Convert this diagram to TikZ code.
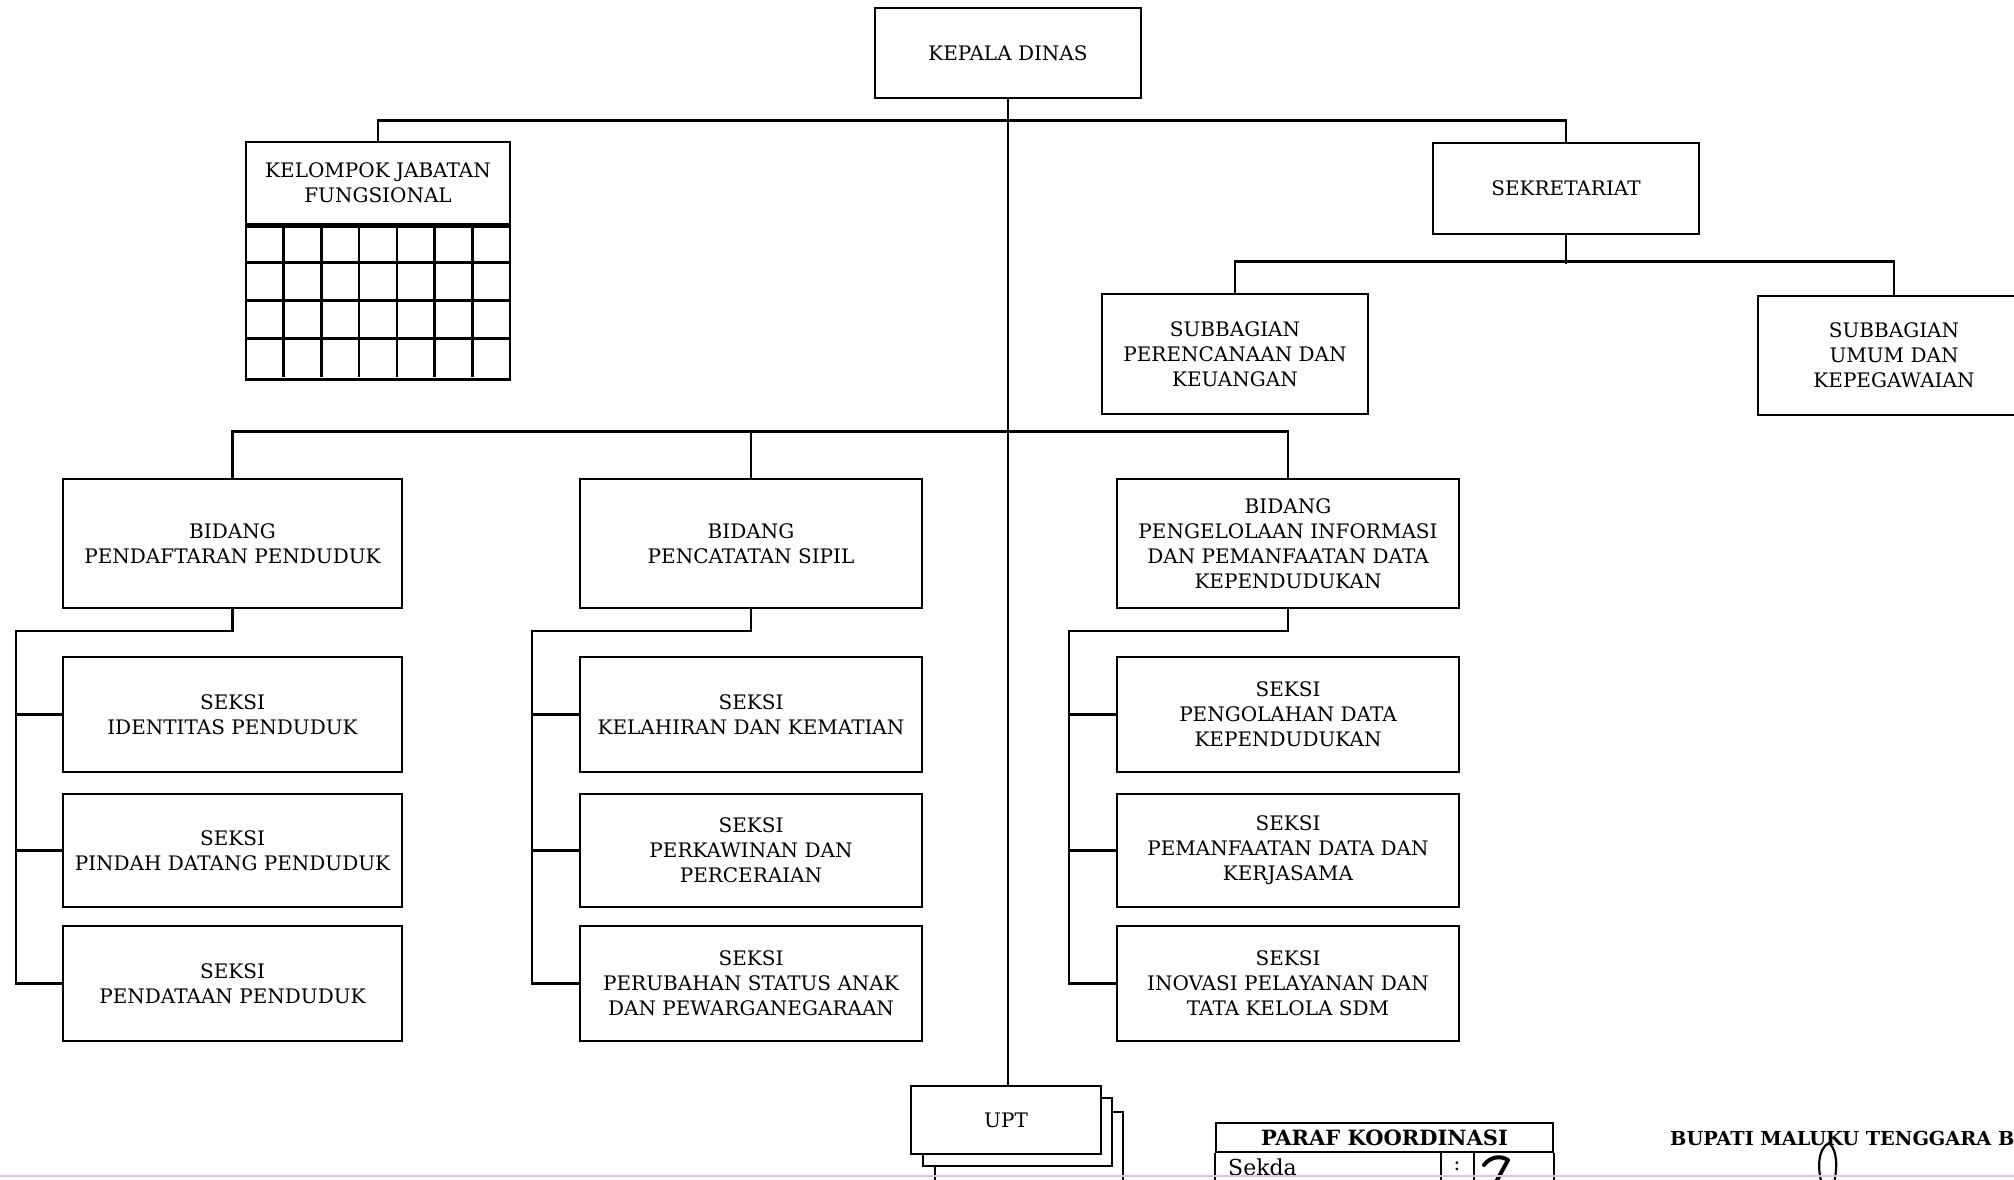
\documentclass[tikz,border=0pt]{standalone}
\usepackage{fontspec}
\setmainfont{DejaVu Serif}
\definecolor{pinkline}{RGB}{222,196,228}
\begin{document}
\begin{tikzpicture}[x=1pt,y=-1pt,
  box/.style={draw, line width=2.7pt, inner sep=0pt, align=center, fill=white,
    font=\fontsize{20}{25}\selectfont},
  conn/.style={line width=2.7pt},
  thin/.style={line width=2pt}]
\useasboundingbox[fill=white] (0,0) rectangle (2014,1180);

% top level
\node[box, minimum width=266pt, minimum height=90pt] (kd) at (1008,53) {KEPALA DINAS};
\node[box, minimum width=264pt, minimum height=82pt] (kjf) at (378,183) {KELOMPOK JABATAN\\FUNGSIONAL};
\node[draw, line width=2.7pt, inner sep=0pt, minimum width=264pt, minimum height=153pt, anchor=north] (grid) at (kjf.south) {};
\foreach \i in {1,...,6} \draw[conn] ({246+\i*264/7},224) -- ({246+\i*264/7},377);
\foreach \j in {1,2,3} \draw[conn] (246,{224+\j*38.25}) -- (510,{224+\j*38.25});

\node[box, minimum width=266pt, minimum height=91pt] (sek) at (1566,188.5) {SEKRETARIAT};
\node[box, minimum width=266pt, minimum height=120pt] (spk) at (1235,354) {SUBBAGIAN\\PERENCANAAN DAN\\KEUANGAN};
\node[box, minimum width=272pt, minimum height=119pt] (suk) at (1894,355.5) {SUBBAGIAN\\UMUM DAN\\KEPEGAWAIAN};

% bidang
\node[box, minimum width=339pt, minimum height=129pt] (b1) at (232.5,543.5) {BIDANG\\PENDAFTARAN PENDUDUK};
\node[box, minimum width=342pt, minimum height=129pt] (b2) at (751,543.5) {BIDANG\\PENCATATAN SIPIL};
\node[box, minimum width=342pt, minimum height=129pt] (b3) at (1288,543.5) {BIDANG\\PENGELOLAAN INFORMASI\\DAN PEMANFAATAN DATA\\KEPENDUDUKAN};

% seksi column 1
\node[box, minimum width=339pt, minimum height=115pt] (s11) at (232.5,714.5) {SEKSI\\IDENTITAS PENDUDUK};
\node[box, minimum width=339pt, minimum height=113pt] (s12) at (232.5,850.5) {SEKSI\\PINDAH DATANG PENDUDUK};
\node[box, minimum width=339pt, minimum height=115pt] (s13) at (232.5,983.5) {SEKSI\\PENDATAAN PENDUDUK};
% seksi column 2
\node[box, minimum width=342pt, minimum height=115pt] (s21) at (751,714.5) {SEKSI\\KELAHIRAN DAN KEMATIAN};
\node[box, minimum width=342pt, minimum height=113pt] (s22) at (751,850.5) {SEKSI\\PERKAWINAN DAN\\PERCERAIAN};
\node[box, minimum width=342pt, minimum height=115pt] (s23) at (751,983.5) {SEKSI\\PERUBAHAN STATUS ANAK\\DAN PEWARGANEGARAAN};
% seksi column 3
\node[box, minimum width=342pt, minimum height=115pt] (s31) at (1288,714.5) {SEKSI\\PENGOLAHAN DATA\\KEPENDUDUKAN};
\node[box, minimum width=342pt, minimum height=113pt] (s32) at (1288,850.5) {SEKSI\\PEMANFAATAN DATA DAN\\KERJASAMA};
\node[box, minimum width=342pt, minimum height=115pt] (s33) at (1288,983.5) {SEKSI\\INOVASI PELAYANAN DAN\\TATA KELOLA SDM};

% UPT stack
\draw[conn, fill=white] (935,1112) rectangle (1123,1200);
\draw[conn, fill=white] (923,1098) rectangle (1112,1166);
\node[box, minimum width=190pt, minimum height=68pt] (upt) at (1006,1120) {UPT};

% connectors
\draw[conn] (kd.south) -- (kd.south |- upt.north);
\draw[conn] (kjf.north) -- ++(0,-20) -| (sek.north);
\draw[conn] (sek.south) -- ++(0,29);
\draw[conn] (spk.north) -- ++(0,-31) -| (suk.north);
\draw[conn] (b1.north) -- ++(0,-46) -| (b3.north);
\draw[conn] (b2.north) -- ++(0,-46);

\coordinate (l1) at (16,631);
\coordinate (l2) at (532,631);
\coordinate (l3) at (1069,631);
\draw[conn] (b1.south) |- (l1) |- (s13.west);
\draw[conn] (l1 |- s11.west) -- (s11.west);
\draw[conn] (l1 |- s12.west) -- (s12.west);
\draw[conn] (b2.south) |- (l2) |- (s23.west);
\draw[conn] (l2 |- s21.west) -- (s21.west);
\draw[conn] (l2 |- s22.west) -- (s22.west);
\draw[conn] (b3.south) |- (l3) |- (s33.west);
\draw[conn] (l3 |- s31.west) -- (s31.west);
\draw[conn] (l3 |- s32.west) -- (s32.west);

% paraf koordinasi table
\node[draw, thin, inner sep=0pt, minimum width=337pt, minimum height=29pt,
  font=\bfseries\fontsize{21}{24}\selectfont] (paraf) at (1384.5,1137.5) {PARAF KOORDINASI};
\draw[thin] (paraf.south west) -- ++(0,40);
\draw[thin] (paraf.south east) -- ++(0,40);
\draw[thin] (1441,1152) -- (1441,1192);
\draw[thin] (1474,1152) -- (1474,1192);
\node[anchor=west, inner sep=0pt, font=\fontsize{22}{24}\selectfont] (sekda) at (1228,1167) {Sekda};
\node[inner sep=0pt, font=\fontsize{20}{22}\selectfont] (colon) at (1457,1166) {:};
\draw[line width=4pt, line cap=round, line join=round] (1484,1165) .. controls (1490,1157) and (1500,1155) .. (1508,1160) -- (1496,1182);

% bupati
\node[anchor=west, inner sep=0pt, font=\bfseries\fontsize{19.3}{22}\selectfont] (bupati) at (1670,1138) {BUPATI MALUKU TENGGARA B};
\draw[line width=2.2pt] (1824,1190) .. controls (1816,1170) and (1818,1148) .. (1829,1143) .. controls (1838,1150) and (1838,1172) .. (1832,1190);

% scan line
\draw[pinkline, line width=1.6pt] (0,1176) -- (2014,1176);
\end{tikzpicture}
\end{document}
